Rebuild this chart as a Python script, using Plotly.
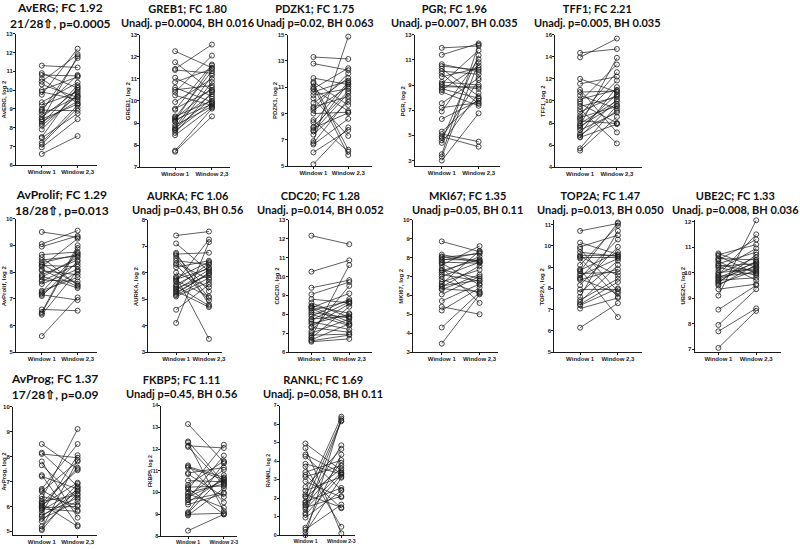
import plotly.graph_objects as go

# ---------------- data (log2 expression, paired Window 1 -> Window 2,3) ----------------
window_labels = ["Window 1", "Window 2,3"]
window_labels_dash = ["Window 1", "Window 2-3"]

averg_w1 = [11.3, 10.9, 10.8, 10.6, 10.45, 10.3, 10.0, 9.9, 9.75, 9.35, 9.2, 9.0, 8.93, 8.85, 8.7, 8.55, 8.45, 8.4, 8.3, 8.2, 8.1, 7.9, 7.5, 7.45, 7.2, 7.1, 6.95, 6.6]
averg_w2 = [11.2, 10.1, 10.75, 9.3, 11.9, 9.6, 10.7, 9.5, 12.2, 10.4, 9.9, 10.8, 8.9, 11.7, 9.65, 10.0, 9.25, 11.8, 9.4, 10.25, 9.7, 9.8, 10.15, 8.75, 9.2, 9.05, 8.45, 7.55]

greb1_w1 = [12.25, 11.75, 11.45, 11.4, 11.05, 10.85, 10.6, 10.5, 10.4, 10.25, 9.95, 9.65, 9.6, 9.3, 9.25, 9.2, 9.15, 9.1, 9.05, 8.9, 8.8, 8.75, 8.7, 8.65, 8.55, 8.45, 7.75, 7.7]
greb1_w2 = [11.5, 10.45, 12.55, 11.25, 10.2, 11.45, 9.95, 10.7, 12.05, 9.8, 11.0, 10.5, 11.65, 10.0, 11.35, 10.6, 9.85, 11.6, 10.3, 9.75, 11.15, 10.1, 10.85, 9.9, 10.4, 9.7, 9.65, 9.3]

pdzk1_w1 = [13.3, 12.8, 11.7, 11.4, 11.3, 11.05, 10.9, 10.85, 10.65, 10.4, 10.15, 9.8, 9.5, 9.4, 9.25, 9.0, 8.5, 8.35, 8.0, 7.9, 7.75, 7.65, 7.4, 6.9, 6.75, 6.65, 6.05, 5.15]
pdzk1_w2 = [13.15, 12.3, 11.2, 9.65, 6.25, 5.85, 12.45, 9.2, 11.5, 10.9, 7.3, 11.7, 10.3, 12.05, 11.05, 9.1, 6.1, 11.4, 10.7, 9.05, 11.3, 10.55, 9.9, 14.85, 10.1, 8.6, 7.75, 7.95]

pgr_w1 = [11.95, 11.4, 10.65, 10.5, 10.3, 10.1, 9.9, 9.65, 9.25, 9.1, 9.0, 8.85, 8.7, 8.6, 8.45, 7.55, 7.2, 6.9, 6.3, 5.3, 5.1, 4.9, 4.8, 4.6, 4.4, 3.5, 3.3, 3.0]
pgr_w2 = [12.1, 12.3, 10.05, 10.2, 8.1, 9.85, 7.5, 10.35, 9.0, 11.75, 8.7, 8.85, 7.95, 10.55, 7.35, 9.55, 7.6, 11.05, 7.75, 7.9, 4.5, 4.1, 9.4, 11.35, 8.35, 12.2, 10.8, 6.75]

tff1_w1 = [14.35, 13.95, 12.0, 11.55, 11.0, 10.8, 10.5, 10.15, 9.95, 9.75, 9.5, 9.25, 9.0, 8.7, 8.5, 8.4, 8.2, 7.95, 7.8, 7.7, 7.55, 7.35, 7.05, 6.9, 6.75, 6.7, 5.7, 5.5]
tff1_w2 = [14.7, 15.65, 10.8, 12.2, 7.15, 10.9, 9.3, 11.0, 13.3, 8.0, 10.35, 6.15, 10.5, 12.6, 9.5, 11.85, 7.95, 10.0, 13.9, 9.75, 10.6, 8.95, 11.25, 9.1, 10.15, 7.9, 9.6, 8.55]

avprolif_w1 = [9.5, 9.05, 8.95, 8.65, 8.55, 8.45, 8.35, 8.3, 8.25, 8.2, 8.1, 8.05, 7.9, 7.85, 7.8, 7.7, 7.65, 7.55, 7.3, 7.25, 7.2, 7.15, 7.1, 6.6, 6.5, 6.45, 6.4, 5.6]
avprolif_w2 = [9.3, 9.55, 9.35, 8.75, 7.5, 8.6, 8.65, 7.55, 8.2, 9.25, 7.45, 7.9, 8.45, 7.4, 8.55, 7.65, 8.3, 8.1, 7.8, 8.7, 8.0, 6.95, 8.4, 6.55, 9.0, 8.9, 8.05, 7.05]

aurka_w1 = [7.4, 7.1, 6.75, 6.7, 6.65, 6.55, 6.45, 6.35, 6.3, 6.2, 6.0, 5.85, 5.8, 5.75, 5.7, 5.65, 5.55, 5.5, 5.45, 5.4, 5.35, 5.3, 5.25, 5.2, 5.15, 5.1, 4.6, 4.1]
aurka_w2 = [7.55, 6.05, 4.8, 6.75, 5.3, 5.05, 6.3, 5.75, 4.95, 6.45, 5.45, 3.5, 6.4, 6.15, 5.1, 7.25, 6.2, 4.75, 6.35, 5.9, 6.1, 4.7, 5.95, 6.0, 5.8, 5.65, 5.55, 7.15]

cdc20_w1 = [12.15, 10.25, 9.4, 9.05, 8.8, 8.6, 8.45, 8.4, 8.35, 8.3, 8.2, 8.1, 8.0, 7.9, 7.75, 7.7, 7.6, 7.5, 7.35, 7.3, 7.1, 7.0, 6.9, 6.8, 6.75, 6.65, 6.6, 6.55]
cdc20_w2 = [11.7, 10.85, 9.8, 9.7, 8.6, 7.85, 8.05, 7.6, 9.1, 7.45, 8.7, 7.8, 7.4, 8.8, 7.9, 8.65, 7.2, 8.0, 8.55, 7.05, 9.5, 7.75, 6.95, 10.6, 8.4, 7.5, 6.9, 6.7]

mki67_w1 = [8.85, 8.15, 8.05, 8.0, 7.9, 7.85, 7.75, 7.7, 7.6, 7.45, 7.35, 7.3, 7.2, 7.1, 7.0, 6.85, 6.7, 6.6, 6.5, 6.45, 6.35, 6.3, 6.05, 5.7, 5.4, 5.2, 4.3, 3.45]
mki67_w2 = [8.3, 7.8, 7.75, 8.2, 7.85, 8.25, 7.7, 6.55, 8.6, 5.6, 6.9, 7.9, 8.05, 6.75, 7.75, 6.1, 7.35, 8.35, 6.8, 7.55, 6.2, 7.1, 7.0, 6.6, 5.0, 6.4, 6.15, 6.05]

top2a_w1 = [10.7, 10.15, 9.95, 9.85, 9.7, 9.55, 9.5, 9.45, 9.4, 9.1, 8.9, 8.85, 8.8, 8.7, 8.6, 8.5, 8.45, 8.4, 8.15, 7.95, 7.8, 7.6, 7.45, 7.35, 7.25, 7.2, 7.05, 6.15]
top2a_w2 = [11.05, 9.6, 10.5, 7.85, 9.5, 9.55, 8.6, 9.45, 7.6, 10.95, 6.65, 9.7, 11.1, 8.75, 9.4, 10.3, 7.75, 8.9, 9.95, 7.95, 9.3, 10.7, 8.45, 9.1, 8.3, 8.0, 7.55, 7.3]

ube2c_w1 = [10.75, 10.7, 10.65, 10.55, 10.5, 10.45, 10.35, 10.3, 10.25, 10.2, 10.1, 10.0, 9.95, 9.9, 9.85, 9.8, 9.75, 9.7, 9.65, 9.6, 9.55, 9.5, 9.35, 9.1, 8.55, 7.95, 7.7, 7.05]
ube2c_w2 = [10.2, 11.1, 9.95, 10.5, 11.3, 9.7, 10.8, 10.05, 10.35, 9.9, 10.95, 10.15, 10.6, 11.5, 10.0, 10.4, 10.25, 9.8, 10.45, 10.7, 10.1, 10.3, 9.55, 12.05, 9.5, 9.35, 8.6, 8.5]

avprog_w1 = [8.5, 8.15, 8.1, 7.8, 7.65, 7.25, 7.2, 6.7, 6.65, 6.6, 6.4, 6.3, 6.2, 6.15, 6.1, 6.05, 6.0, 5.95, 5.9, 5.85, 5.75, 5.65, 5.6, 5.5, 5.4, 5.2, 5.1, 5.05]
avprog_w2 = [7.5, 6.8, 7.95, 5.55, 6.3, 5.25, 6.7, 8.5, 5.85, 7.8, 6.05, 9.1, 6.45, 7.45, 5.2, 6.95, 7.55, 6.0, 5.8, 6.65, 8.05, 6.35, 6.6, 6.2, 6.9, 6.5, 7.85, 6.75]

fkbp5_w1 = [13.15, 12.35, 12.3, 12.15, 12.1, 11.25, 11.2, 11.15, 10.9, 10.85, 10.55, 10.35, 10.25, 10.2, 10.15, 10.0, 9.95, 9.85, 9.8, 9.7, 9.65, 9.55, 9.45, 9.1, 9.05, 9.0, 8.95, 8.25]
fkbp5_w2 = [11.4, 10.45, 9.15, 12.05, 10.35, 9.55, 10.7, 10.6, 11.15, 9.8, 10.5, 11.45, 10.3, 9.0, 12.2, 10.4, 9.3, 11.05, 10.55, 11.7, 10.0, 10.65, 9.95, 11.35, 10.8, 9.05, 10.2, 9.0]

rankl_w1 = [4.95, 4.7, 4.35, 4.25, 3.85, 3.7, 3.4, 3.25, 3.15, 2.9, 2.6, 2.4, 2.2, 2.1, 2.05, 1.8, 1.75, 1.65, 1.6, 1.5, 1.4, 1.2, 1.1, 0.95, 0.4, 0.3, 0.15, 0.0]
rankl_w2 = [3.5, 0.1, 3.35, 2.45, 3.3, 0.45, 4.05, 1.45, 3.75, 2.05, 4.65, 3.15, 1.5, 6.4, 3.6, 2.55, 6.2, 4.85, 3.9, 2.1, 3.4, 6.15, 3.25, 2.4, 4.35, 1.65, 3.1, 6.3]

title_main = ["AvERG; FC 1.92", "GREB1; FC 1.80", "PDZK1; FC 1.75", "PGR; FC 1.96", "TFF1; FC 2.21",
              "AvProlif; FC 1.29", "AURKA; FC 1.06", "CDC20; FC 1.28", "MKI67; FC 1.35", "TOP2A; FC 1.47", "UBE2C; FC 1.33",
              "AvProg; FC 1.37", "FKBP5; FC 1.11", "RANKL; FC 1.69"]
title_stats = ["21/28\u21e7, p=0.0005", "Unadj. p=0.0004, BH 0.016", "Unadj p=0.02, BH 0.063", "Unadj. p=0.007, BH 0.035", "Unadj. p=0.005, BH 0.035",
               "18/28\u21e7, p=0.013", "Unadj p=0.43, BH 0.56", "Unadj. p=0.014, BH 0.052", "Unadj p=0.05, BH 0.11", "Unadj. p=0.013, BH 0.050", "Unadj. p=0.008, BH 0.036",
               "17/28\u21e7, p=0.09", "Unadj p=0.45, BH 0.56", "Unadj. p=0.058, BH 0.11"]
y_titles = ["AvERG, log 2", "GREB1, log 2", "PDZK1, log 2", "PGR, log 2", "TFF1, log 2",
            "AvProlif, log 2", "AURKA, log 2", "CDC20, log 2", "MKI67, log 2", "TOP2A, log 2", "UBE2C, log 2",
            "AvProg, log 2", "FKBP5, log 2", "RANKL, log 2"]

series_w1 = [averg_w1, greb1_w1, pdzk1_w1, pgr_w1, tff1_w1, avprolif_w1, aurka_w1, cdc20_w1, mki67_w1, top2a_w1, ube2c_w1, avprog_w1, fkbp5_w1, rankl_w1]
series_w2 = [averg_w2, greb1_w2, pdzk1_w2, pgr_w2, tff1_w2, avprolif_w2, aurka_w2, cdc20_w2, mki67_w2, top2a_w2, ube2c_w2, avprog_w2, fkbp5_w2, rankl_w2]
x_labels = [window_labels] * 12 + [window_labels_dash] * 2

# y range (min, max, tick start, tick stop, tick step)
y_ranges = [(6, 13, 6, 13, 1), (7, 13, 7, 13, 1), (5, 15, 5, 15, 2), (2.55, 13, 3, 13, 2), (4, 16, 4, 16, 2),
            (5, 10, 5, 10, 1), (3, 8, 3, 8, 1), (6, 13, 6, 13, 1), (3, 10, 3, 10, 1), (5, 11.2, 5, 11, 1), (6.9, 12.05, 7, 12, 1),
            (4.85, 10, 5, 10, 1), (8, 14, 8, 14, 1), (0, 7, 0, 7, 1)]

# ---------------- layout geometry (window pixels) ----------------
W, H = 800, 549
# axis_left, window1_x, window2_x, axis_right, top, bottom, title_cx, title_cy, ytitle_x, tick font
geom = [
    (16, 42, 78, 97, 31, 164, 61, 13, 4, 6),
    (141, 176, 213, 231, 32, 166, 189, 13, 129, 6),
    (289, 315, 350, 374, 32, 165, 317, 13, 277, 6),
    (417, 444, 481, 503, 32, 165, 457, 13, 405, 6),
    (558, 583, 620, 645, 32, 166, 600, 13, 546, 6),
    (16, 42, 78, 97, 218, 353, 62, 202, 4, 6),
    (149, 177, 210, 223, 219, 353, 189, 202, 137, 6),
    (290, 313, 351, 374, 219, 353, 322, 202, 278, 6),
    (415, 444, 482, 501, 219, 353, 470, 202, 403, 6),
    (557, 583, 621, 645, 219.7, 353, 604, 202, 545, 6),
    (698, 722, 760, 785, 219.7, 352.6, 739, 202, 686, 6),
    (13, 42, 78, 97, 408, 538, 55, 388, 4, 6),
    (162, 189, 225, 238, 407, 539, 183, 388, 151, 5.2),
    (281, 307, 343, 357, 407, 538, 325, 388, 270, 5.2),
]


def px_x(px):
    return px / W


def px_y(py):
    return 1 - py / H


fig = go.Figure()
annotations = []
layout_axes = {}
ink = "#1a1a1a"

for i, (w1, w2) in enumerate(zip(series_w1, series_w2)):
    n = i + 1
    ax_l, px1, px2, ax_r, top, bot, tcx, tcy, ytx, tfs = geom[i]
    ymin, ymax, t0, t1, ts = y_ranges[i]
    tickfont = dict(family="Liberation Sans", size=tfs, color="#222222", weight="bold")
    xs, ys = [], []
    for a, b in zip(w1, w2):
        xs += [1, 2, None]
        ys += [a, b, None]
    xa = "x" if n == 1 else f"x{n}"
    ya = "y" if n == 1 else f"y{n}"
    fig.add_trace(go.Scatter(
        x=xs, y=ys, xaxis=xa, yaxis=ya, mode="lines+markers",
        line=dict(color=ink, width=0.7),
        marker=dict(symbol="circle-open", size=5, color=ink, line=dict(width=0.8)),
        showlegend=False, hoverinfo="skip", cliponaxis=False, connectgaps=False))
    d = px2 - px1
    xr = [1 - (px1 - ax_l) / d, 2 + (ax_r - px2) / d]
    xname = "xaxis" if n == 1 else f"xaxis{n}"
    yname = "yaxis" if n == 1 else f"yaxis{n}"
    tickvals = []
    v = t0
    while v <= t1 + 1e-9:
        tickvals.append(v)
        v += ts
    layout_axes[xname] = dict(
        domain=[px_x(ax_l), px_x(ax_r)], range=xr, anchor=ya,
        showline=True, linecolor=ink, linewidth=1, showgrid=False, zeroline=False,
        tickmode="array", tickvals=[1, 2], ticktext=x_labels[i], tickangle=0,
        ticks="outside", ticklen=2, tickwidth=0.8, tickcolor=ink, ticklabelstandoff=-1,
        tickfont=tickfont, fixedrange=True)
    layout_axes[yname] = dict(
        domain=[px_y(bot), px_y(top)], range=[ymin, ymax], anchor=xa,
        showline=True, linecolor=ink, linewidth=1, showgrid=False, zeroline=False,
        tickmode="array", tickvals=tickvals,
        ticks="outside", ticklen=2, tickwidth=0.8, tickcolor=ink, ticklabelstandoff=-1,
        tickfont=tickfont, fixedrange=True)
    big = title_stats[i].startswith(("21", "18", "17"))
    tfont = dict(family="Lato", size=12 if big else 11, color="#111111", weight="bold")
    annotations.append(dict(text=title_main[i] + "<br>" + title_stats[i], x=px_x(tcx), y=px_y(tcy),
                            xref="paper", yref="paper", xanchor="center", yanchor="middle",
                            align="center", showarrow=False, font=tfont))
    annotations.append(dict(text=y_titles[i], x=px_x(ytx), y=px_y((top + bot) / 2),
                            xref="paper", yref="paper", xanchor="center", yanchor="middle",
                            textangle=-90, showarrow=False,
                            font=dict(family="Liberation Sans", size=tfs, color="#222222", weight="bold")))

fig.update_layout(
    width=W, height=H, margin=dict(l=0, r=0, t=0, b=0),
    paper_bgcolor="white", plot_bgcolor="white",
    annotations=annotations, showlegend=False, **layout_axes)

# remove the browser's default 8px body margin so the figure fills the window exactly
fig.write_html("out.html", config={"displayModeBar": False},
               post_script="document.body.style.margin='0px';")
